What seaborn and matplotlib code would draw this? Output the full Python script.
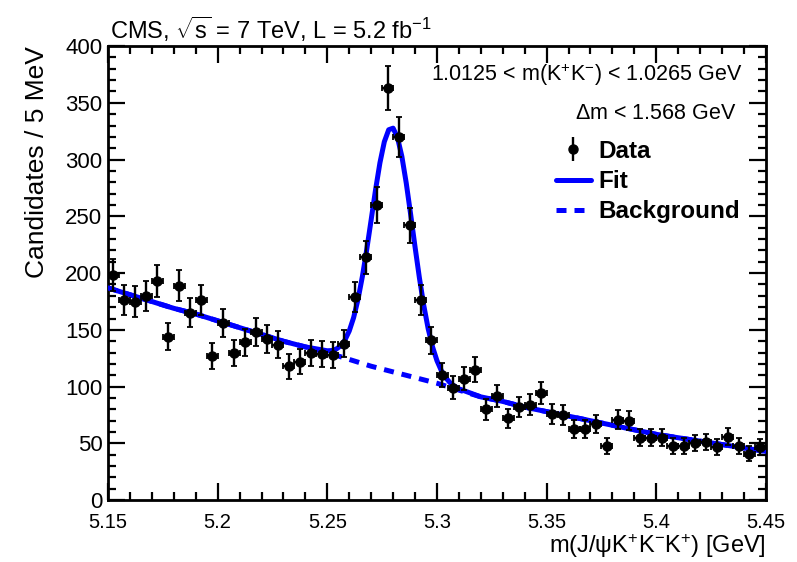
import numpy as np
import pandas as pd
from matplotlib import pyplot as plt
from matplotlib.ticker import MultipleLocator
from matplotlib.lines import Line2D
import seaborn as sns

# data points, 5 MeV bins
bin_centers = [5.1525 + 0.005 * i for i in range(60)]
counts = [198, 176, 175, 180, 193, 144, 189, 165, 176, 127,
          156, 130, 139, 148, 142, 137, 118, 122, 130, 129,
          128, 138, 179, 214, 260, 363, 320, 242, 176, 141,
          110, 99, 107, 115, 80, 92, 72, 82, 84, 94,
          76, 75, 63, 63, 67, 48, 71, 70, 55, 55,
          55, 48, 48, 50, 51, 47, 56, 48, 41, 47]

# fit curve (signal + background) and background only
fit_x = [5.15, 5.16, 5.17, 5.18, 5.19, 5.20, 5.21, 5.22, 5.23, 5.24,
         5.250, 5.252, 5.254, 5.256, 5.258, 5.260, 5.262, 5.264, 5.266, 5.268,
         5.270, 5.272, 5.274, 5.276, 5.278, 5.280, 5.282, 5.284, 5.286, 5.288,
         5.290, 5.292, 5.294, 5.296, 5.298, 5.300, 5.302, 5.304, 5.306, 5.308,
         5.310, 5.32, 5.33, 5.34, 5.35, 5.36, 5.37, 5.38, 5.39, 5.40,
         5.41, 5.42, 5.43, 5.44, 5.45]
fit_y = [187, 181, 175, 169, 164, 158, 152, 146, 140, 135,
         131.6, 131.8, 133, 135.8, 140.9, 149, 160.8, 176.8, 197.1, 221,
         247, 273.4, 297.2, 315.7, 326.3, 327.7, 319.5, 302.8, 279.3, 251.8,
         223.2, 195.8, 171.4, 151, 135, 122.9, 114.1, 107.8, 103.4, 100.4,
         98.1, 91, 87, 82, 78, 74, 70, 66, 62, 58,
         55, 52, 49, 46, 43]
bkg_x = [5.15, 5.16, 5.17, 5.18, 5.19, 5.20, 5.21, 5.22, 5.23, 5.24,
         5.25, 5.26, 5.27, 5.28, 5.29, 5.30, 5.31, 5.32, 5.33, 5.34,
         5.35, 5.36, 5.37, 5.38, 5.39, 5.40, 5.41, 5.42, 5.43, 5.44, 5.45]
bkg_y = [187, 181, 175, 169, 164, 158, 152, 146, 140, 135,
         130, 124, 118, 113, 108, 103, 97, 91, 87, 82,
         78, 74, 70, 66, 62, 58, 55, 52, 49, 46, 43]

df_data = pd.DataFrame({'m': bin_centers, 'n': counts})
df_fit = pd.DataFrame({'m': fit_x, 'n': fit_y})
df_bkg = pd.DataFrame({'m': bkg_x, 'n': bkg_y})

sns.set_theme(style='ticks')
plt.rcParams['font.family'] = ['Liberation Sans', 'DejaVu Sans']
plt.rcParams['mathtext.fontset'] = 'custom'
plt.rcParams['mathtext.rm'] = 'Liberation Sans'
plt.rcParams['mathtext.it'] = 'Liberation Sans'
plt.rcParams['mathtext.bf'] = 'Liberation Sans:bold'
for k in ['text.color', 'axes.labelcolor', 'xtick.color', 'ytick.color']:
    plt.rcParams[k] = 'black'

fig = plt.figure(figsize=(7.97, 5.62), dpi=100)
ax = fig.add_axes([0.1355, 0.110, 0.8255, 0.808])

blue = '#0000ff'
dash = (0, (2.0, 1.6))
sns.lineplot(data=df_bkg, x='m', y='n', ax=ax, color=blue, lw=3.6, linestyle=dash, zorder=2)
sns.lineplot(data=df_fit, x='m', y='n', ax=ax, color=blue, lw=3.6, zorder=3)
ax.errorbar(df_data['m'], df_data['n'], yerr=np.sqrt(df_data['n']), xerr=0.0025,
            fmt='o', color='black', ms=6.5, elinewidth=1.7, capsize=2, capthick=1.3, zorder=4)

ax.set_xlim(5.15, 5.45)
ax.set_ylim(0, 400)
ax.xaxis.set_minor_locator(MultipleLocator(0.01))
ax.yaxis.set_major_locator(MultipleLocator(50))
ax.yaxis.set_minor_locator(MultipleLocator(10))
ax.set_xticks([5.15, 5.2, 5.25, 5.3, 5.35, 5.4, 5.45])
ax.set_xticklabels(['5.15', '5.2', '5.25', '5.3', '5.35', '5.4', '5.45'])
ax.tick_params(which='both', direction='in', top=True, right=True, width=1.6)
ax.tick_params(which='major', length=12)
ax.tick_params(which='minor', length=6)
ax.tick_params(axis='x', labelsize=14.5, pad=9)
ax.tick_params(axis='y', labelsize=16, pad=4)
for s in ax.spines.values():
    s.set_linewidth(2)
    s.set_color('black')

ax.set_xlabel(r'm(J/$\psi$K$^{+}$K$^{-}$K$^{+}$) [GeV]', loc='right', fontsize=17, labelpad=0)
ax.set_ylabel('Candidates / 5 MeV', loc='top', fontsize=19, labelpad=12)

fig.text(0.138, 0.947, r'CMS, $\sqrt{s}$ = 7 TeV, L = 5.2 fb$^{-1}$', fontsize=17, va='center')
ax.text(0.964, 0.936, r'1.0125 < m(K$^{+}$K$^{-}$) < 1.0265 GeV', transform=ax.transAxes,
        ha='right', va='center', fontsize=15.5)
ax.text(0.956, 0.852, r'$\Delta$m < 1.568 GeV', transform=ax.transAxes,
        ha='right', va='center', fontsize=15.5)

h_data = ax.errorbar([], [], yerr=[], fmt='o', color='black', ms=6.5, elinewidth=1.7)
h_fit = Line2D([], [], color=blue, lw=3.6)
h_bkg = Line2D([], [], color=blue, lw=3.6, linestyle=dash)
ax.legend([h_data, h_fit, h_bkg], ['Data', 'Fit', 'Background'], loc='upper right',
          bbox_to_anchor=(0.975, 0.815), frameon=False, prop={'size': 17.5, 'weight': 'bold'},
          handlelength=1.45, handletextpad=0.3, labelspacing=0.3, borderaxespad=0)

fig.savefig('out.png', dpi=100)
